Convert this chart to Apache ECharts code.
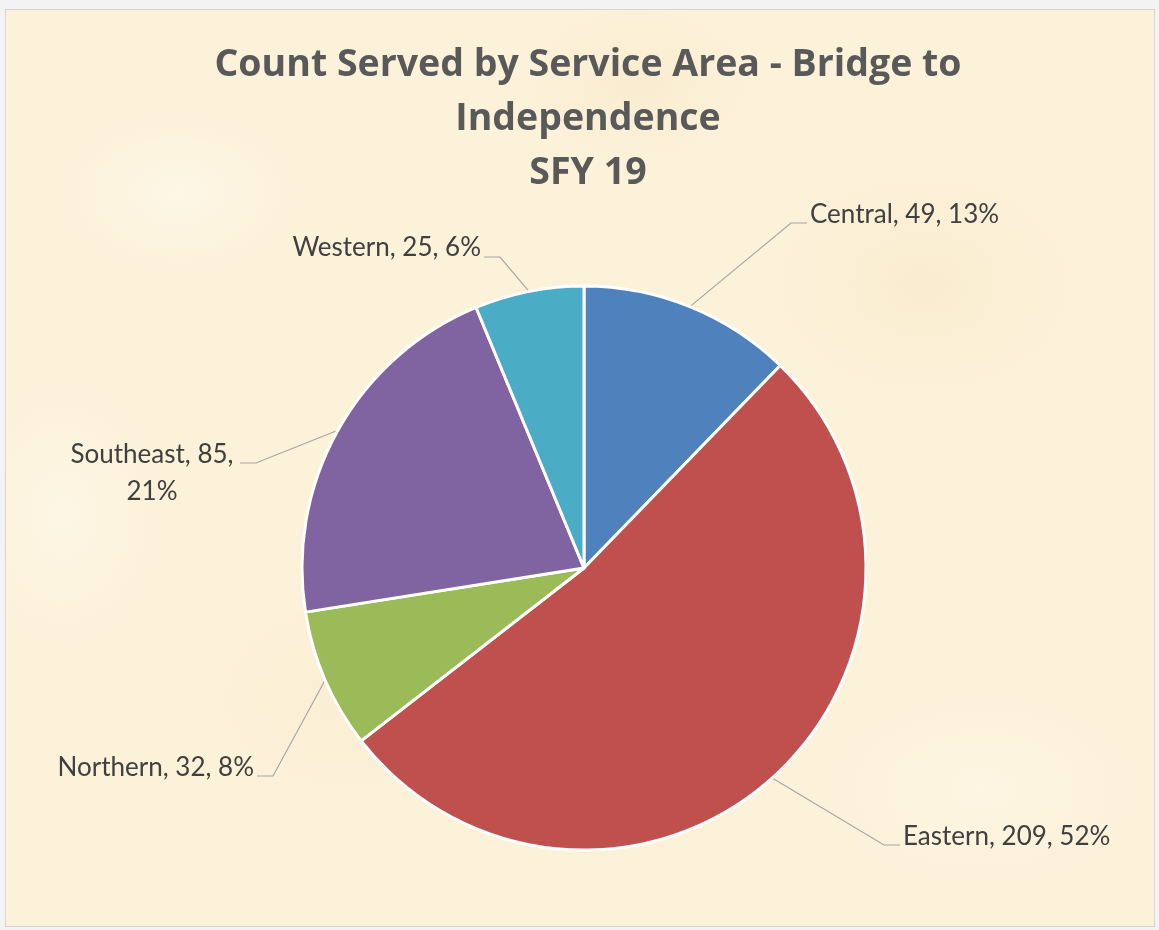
<!DOCTYPE html>
<html>
<head>
<meta charset="utf-8">
<script src="https://cdn.jsdelivr.net/npm/echarts@6/dist/echarts.min.js"></script>
<style>
  html, body { margin: 0; padding: 0; background: #f3f3f3; width: 1159px; height: 930px; overflow: hidden; }
  #frame {
    position: absolute; left: 5px; top: 9px; width: 1148px; height: 916px;
    border: 1px solid #d4d4d4;
    background-color: #fcf1d9;
    background-image:
      radial-gradient(ellipse 180px 120px at 15% 20%, rgba(255,251,238,0.6), rgba(255,251,238,0) 70%),
      radial-gradient(ellipse 220px 160px at 80% 30%, rgba(246,231,198,0.45), rgba(246,231,198,0) 70%),
      radial-gradient(ellipse 200px 140px at 30% 75%, rgba(247,233,202,0.4), rgba(247,233,202,0) 70%),
      radial-gradient(ellipse 240px 150px at 85% 85%, rgba(255,249,232,0.6), rgba(255,249,232,0) 70%),
      radial-gradient(ellipse 160px 110px at 55% 8%, rgba(245,229,194,0.4), rgba(245,229,194,0) 70%),
      radial-gradient(ellipse 150px 200px at 5% 55%, rgba(255,250,236,0.6), rgba(255,250,236,0) 70%);
  }
  #chart { position: absolute; left: 0; top: 0; width: 1159px; height: 930px; }
</style>
</head>
<body>
<div id="frame"></div>
<div id="chart"></div>
<script>
// ---- data ----
var categories = ['Central', 'Eastern', 'Northern', 'Southeast', 'Western'];
var counts = [49, 209, 32, 85, 25];
var percentLabels = ['13%', '52%', '8%', '21%', '6%'];
var titleLines = ['Count Served by Service Area - Bridge to', 'Independence', 'SFY 19'];

var colors = ['#4f81bd', '#c0504d', '#9bbb59', '#8064a2', '#4bacc6'];

// label placement (layout, not data)
var labelSpots = {
  Central:   { x: 810, y: 215, align: 'left',   lineY: 223, side: 'left' },
  Eastern:   { x: 903, y: 837, align: 'left',   lineY: 845, side: 'left' },
  Northern:  { x: 254, y: 768, align: 'right',  lineY: 776, side: 'right', edge: 257 },
  Southeast: { x: 152, y: 473, align: 'center', lineY: 463, side: 'right', edge: 240 },
  Western:   { x: 481, y: 248, align: 'right',  lineY: 257, side: 'right', edge: 484 }
};

var seriesData = categories.map(function (c, i) {
  return { name: c, value: counts[i], itemStyle: { color: colors[i] } };
});

var chart = echarts.init(document.getElementById('chart'), null, { renderer: 'canvas' });
chart.setOption({
  backgroundColor: 'transparent',
  animation: false,
  title: {
    text: titleLines.join('\n'),
    left: 583,
    top: 33,
    textAlign: 'center',
    textStyle: {
      fontFamily: 'Open Sans',
      fontWeight: 'bold',
      fontSize: 37.5,
      lineHeight: 54,
      color: '#595959'
    }
  },
  series: [{
    type: 'pie',
    center: [584, 568],
    radius: 282,
    startAngle: 90,
    clockwise: true,
    data: seriesData,
    itemStyle: { borderColor: '#ffffff', borderWidth: 3 },
    emphasis: { disabled: true },
    label: {
      show: true,
      position: 'outside',
      fontFamily: 'Lato',
      fontSize: 26,
      lineHeight: 37,
      color: '#404040',
      formatter: function (p) {
        var t = p.name + ', ' + p.value + ', ' + percentLabels[p.dataIndex];
        if (p.name === 'Southeast') t = p.name + ', ' + p.value + ',\n' + percentLabels[p.dataIndex];
        return t;
      }
    },
    labelLine: {
      show: true,
      length: 20,
      length2: 15,
      lineStyle: { color: '#a6a6a6', width: 1.2 }
    },
    labelLayout: function (params) {
      var name = categories[params.dataIndex];
      var s = labelSpots[name];
      var res = { x: s.x, y: s.y, align: s.align, verticalAlign: 'middle' };
      var pts = params.labelLinePoints;
      if (pts && pts.length) {
        var start = pts[0];
        var end, elbow;
        if (s.side === 'left') {
          end = s.x - 3; elbow = end - 16;
        } else {
          end = s.edge != null ? s.edge : s.x + 3; elbow = end + 16;
        }
        res.labelLinePoints = [[start[0], start[1]], [elbow, s.lineY], [end, s.lineY]];
      }
      return res;
    }
  }]
});
</script>
</body>
</html>
